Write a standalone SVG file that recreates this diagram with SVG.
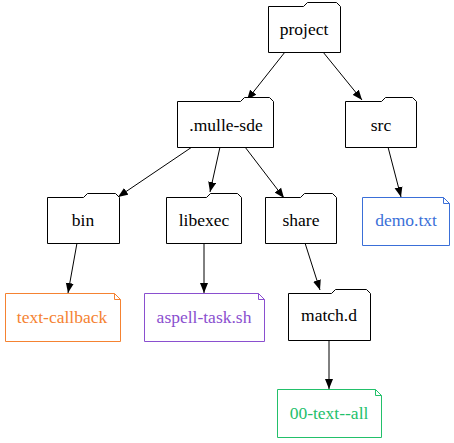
<svg xmlns="http://www.w3.org/2000/svg" width="454" height="443" viewBox="0 0 454 443">
<defs>
<marker id="a" markerUnits="userSpaceOnUse" markerWidth="11" markerHeight="9" refX="10" refY="4.5" orient="auto"><path d="M0,0.5 L10,4.5 L0,8.5 z" fill="#000"/></marker>
</defs>
<rect width="454" height="443" fill="#fff"/>
<g id="connectors" stroke="#000" stroke-width="1" fill="none">
<line x1="285" y1="52" x2="247" y2="100" marker-end="url(#a)"/>
<line x1="323" y1="52" x2="362" y2="100" marker-end="url(#a)"/>
<line x1="192" y1="147" x2="118" y2="197" marker-end="url(#a)"/>
<line x1="220" y1="147" x2="210" y2="192" marker-end="url(#a)"/>
<line x1="245" y1="147" x2="284" y2="198" marker-end="url(#a)"/>
<line x1="388" y1="147" x2="401" y2="197" marker-end="url(#a)"/>
<line x1="77" y1="243" x2="68" y2="293" marker-end="url(#a)"/>
<line x1="204" y1="243" x2="204" y2="293" marker-end="url(#a)"/>
<line x1="305" y1="243" x2="320" y2="290" marker-end="url(#a)"/>
<line x1="329" y1="340" x2="329" y2="389" marker-end="url(#a)"/>
</g>
<g id="project"><path fill="#fff" stroke="#000" d="M268.5,6.5 H303.5 L307.5,2.5 H336.5 L340.5,6.5 V52.5 H268.5 Z"/><text x="304" y="35" font-family="'Liberation Serif'" font-size="17.5" text-anchor="middle">project</text></g>
<g id="mulle-sde"><path fill="#fff" stroke="#000" d="M177.5,101.5 H240.5 L244.5,97.5 H269.5 L273.5,101.5 V147.5 H177.5 Z"/><text x="226" y="131" font-family="'Liberation Serif'" font-size="17.5" text-anchor="middle">.mulle-sde</text></g>
<g id="src"><path fill="#fff" stroke="#000" d="M345.5,101.5 H381.5 L385.5,97.5 H412.5 L416.5,101.5 V147.5 H345.5 Z"/><text x="381" y="131" font-family="'Liberation Serif'" font-size="17.5" text-anchor="middle">src</text></g>
<g id="bin"><path fill="#fff" stroke="#000" d="M47.5,197.5 H83.5 L87.5,193.5 H115.5 L119.5,197.5 V243.5 H47.5 Z"/><text x="83" y="226" font-family="'Liberation Serif'" font-size="17.5" text-anchor="middle">bin</text></g>
<g id="libexec"><path fill="#fff" stroke="#000" d="M166.5,197.5 H206.5 L210.5,193.5 H237.5 L241.5,197.5 V243.5 H166.5 Z"/><text x="204" y="226" font-family="'Liberation Serif'" font-size="17.5" text-anchor="middle">libexec</text></g>
<g id="share"><path fill="#fff" stroke="#000" d="M265.5,197.5 H300.5 L304.5,193.5 H332.5 L336.5,197.5 V243.5 H265.5 Z"/><text x="301" y="226" font-family="'Liberation Serif'" font-size="17.5" text-anchor="middle">share</text></g>
<g id="match-d"><path fill="#fff" stroke="#000" d="M288.5,293.5 H331.5 L335.5,289.5 H366.5 L370.5,293.5 V340.5 H288.5 Z"/><text x="329" y="321" font-family="'Liberation Serif'" font-size="17.5" text-anchor="middle">match.d</text></g>
<g id="demo-txt"><path fill="#fff" stroke="#3a6fd8" d="M362.5,197.5 H443.5 L449.5,203.5 V245.5 H362.5 Z M443.5,197.5 V203.5 H449.5"/><text x="406" y="226" font-family="'Liberation Serif'" font-size="17.5" text-anchor="middle" fill="#3a6fd8">demo.txt</text></g>
<g id="text-callback"><path fill="#fff" stroke="#f58231" d="M5.5,293.5 H114.5 L120.5,299.5 V341.5 H5.5 Z M114.5,293.5 V299.5 H120.5"/><text x="62" y="323" font-family="'Liberation Serif'" font-size="17.5" text-anchor="middle" fill="#f58231">text-callback</text></g>
<g id="aspell-task-sh"><path fill="#fff" stroke="#8a4fcf" d="M144.5,293.5 H258.5 L264.5,299.5 V341.5 H144.5 Z M258.5,293.5 V299.5 H264.5"/><text x="204" y="323" font-family="'Liberation Serif'" font-size="17.5" text-anchor="middle" fill="#8a4fcf">aspell-task.sh</text></g>
<g id="00-text--all"><path fill="#fff" stroke="#22c06a" d="M277.5,389.5 H375.5 L381.5,395.5 V437.5 H277.5 Z M375.5,389.5 V395.5 H381.5"/><text x="329" y="419" font-family="'Liberation Serif'" font-size="17.5" text-anchor="middle" fill="#22c06a">00-text--all</text></g>
</svg>
